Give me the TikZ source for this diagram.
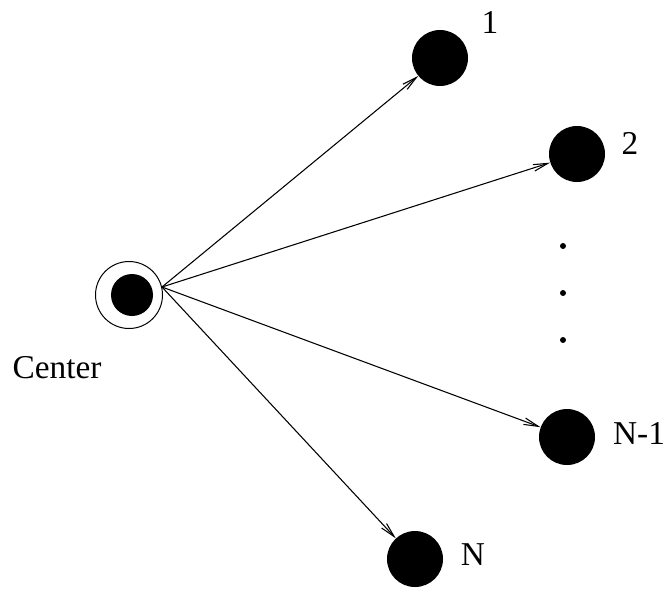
\documentclass[tikz,border=0pt]{standalone}
\usepackage{fontspec}
\setmainfont{Liberation Serif}
\usetikzlibrary{arrows.meta}
\begin{document}
\begin{tikzpicture}[x=0.75pt,y=-0.75pt,
  peer/.style={circle,fill=black,minimum size=56*0.75pt,inner sep=0pt},
  hub/.style={circle,draw=black,line width=0.75pt,minimum size=67*0.75pt,inner sep=0pt},
  lbl/.style={font=\fontsize{25}{29}\selectfont,inner sep=0pt},
  link/.style={line width=0.8pt,-{Straight Barb[length=11pt,width=5pt,line width=0.8pt]}},
  gap/.style={circle,fill=black,inner sep=0pt,minimum size=4.5pt}]
  \useasboundingbox (0,0) rectangle (667,590);

  % central node: ring with a filled disc inside
  \node[hub] (ring) at (129,295) {};
  \node[peer,minimum size=42*0.75pt] (c) at (132,295) {};
  \coordinate (src) at (162,287);
  \node[lbl,anchor=north] (clab) at (57,356) {Center};

  % receiving nodes
  \node[peer] (n1) at (440,58) {};
  \node[peer] (n2) at (577,154) {};
  \node[peer] (nm) at (567,437) {};
  \node[peer] (nn) at (415,559) {};

  \node[lbl] (l1) at (490,22) {1};
  \node[lbl] (l2) at (630,143) {2};
  \node[lbl] (lm) at (639,433) {N-1};
  \node[lbl] (ln) at (473,555) {N};

  % ellipsis between node 2 and node N-1
  \node[gap] (d1) at (563,246) {};
  \node[gap] (d2) at (563,293) {};
  \node[gap] (d3) at (563,340) {};

  % links from the centre
  \draw[link] (src) -- (n1);
  \draw[link] (src) -- (n2);
  \draw[link] (src) -- (nm);
  \draw[link] (src) -- (nn);
\end{tikzpicture}
\end{document}
